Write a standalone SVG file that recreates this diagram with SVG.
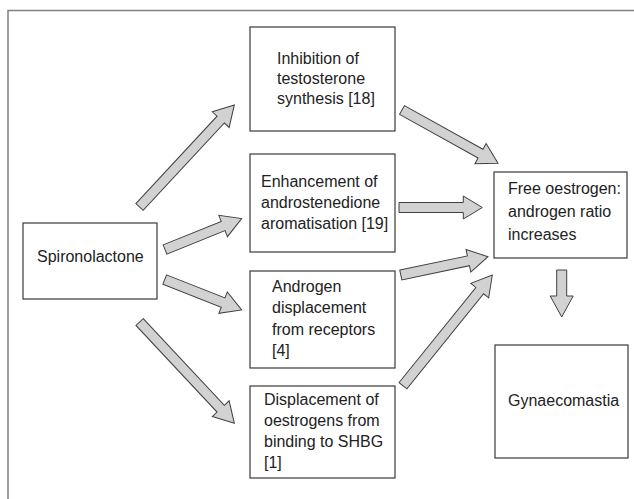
<svg xmlns="http://www.w3.org/2000/svg" width="634" height="499" viewBox="0 0 634 499">
<style>
.frame{fill:none;stroke:#808080;stroke-width:1.5}
.box{fill:#fff;stroke:#3a3a3a;stroke-width:1.2}
.arr{fill:#d2d2d2;stroke:#404040;stroke-width:1;stroke-linejoin:miter}
text{font-family:"Liberation Sans",Arial,sans-serif;font-size:16px;fill:#222}
</style>
<rect width="634" height="499" fill="#fff"/>
<rect class="frame" x="8" y="10.5" width="700" height="600"/>
<g id="connectors">
<path class="arr" transform="translate(139.5,207) rotate(-47.1)" d="M0,-5 H119.3 V-11.5 L139.3,0 L119.3,11.5 V5 H0 Z"/>
<path class="arr" transform="translate(165,249.5) rotate(-22)" d="M0,-5 H62.7 V-11.5 L82.7,0 L62.7,11.5 V5 H0 Z"/>
<path class="arr" transform="translate(164.7,279.5) rotate(21.6)" d="M0,-5 H62.8 V-11.5 L82.8,0 L62.8,11.5 V5 H0 Z"/>
<path class="arr" transform="translate(139.6,322) rotate(46.9)" d="M0,-5 H118.7 V-11.5 L138.7,0 L118.7,11.5 V5 H0 Z"/>
<path class="arr" transform="translate(402,110) rotate(29.04)" d="M0,-5 H89.8 V-11.5 L109.8,0 L89.8,11.5 V5 H0 Z"/>
<path class="arr" transform="translate(399,207.5)" d="M0,-5 H64.3 V-11.5 L83.3,0 L64.3,11.5 V5 H0 Z"/>
<path class="arr" transform="translate(400.8,275) rotate(-11.85)" d="M0,-5 H69.1 V-11.5 L89.1,0 L69.1,11.5 V5 H0 Z"/>
<path class="arr" transform="translate(403,385.7) rotate(-51.1)" d="M0,-5 H122.2 V-11.5 L142.2,0 L122.2,11.5 V5 H0 Z"/>
<path class="arr" transform="translate(561.7,270) rotate(90)" d="M0,-5 H26 V-11.5 L47,0 L26,11.5 V5 H0 Z"/>
</g>
<g id="spironolactone">
<rect class="box" x="23" y="223" width="134" height="76"/>
<text x="37" y="262">Spironolactone</text>
</g>
<g id="inhibition">
<rect class="box" x="250" y="27" width="145" height="104"/>
<text x="277" y="64">Inhibition of</text>
<text x="277" y="84">testosterone</text>
<text x="277" y="104">synthesis [18]</text>
</g>
<g id="enhancement">
<rect class="box" x="250" y="154" width="145" height="98"/>
<text x="261" y="187">Enhancement of</text>
<text x="261" y="208">androstenedione</text>
<text x="261" y="229">aromatisation [19]</text>
</g>
<g id="androgen">
<rect class="box" x="250" y="271" width="145" height="97"/>
<text x="272" y="292">Androgen</text>
<text x="272" y="313">displacement</text>
<text x="272" y="335">from receptors</text>
<text x="272" y="356">[4]</text>
</g>
<g id="displacement">
<rect class="box" x="250" y="386" width="145" height="92"/>
<text x="264" y="405">Displacement of</text>
<text x="264" y="426">oestrogens from</text>
<text x="264" y="447">binding to SHBG</text>
<text x="264" y="468">[1]</text>
</g>
<g id="free-ratio">
<rect class="box" x="494" y="172" width="133" height="86"/>
<text x="508" y="194">Free oestrogen:</text>
<text x="508" y="217">androgen ratio</text>
<text x="508" y="240">increases</text>
</g>
<g id="gynaecomastia">
<rect class="box" x="495" y="345" width="133" height="113"/>
<text x="508" y="406">Gynaecomastia</text>
</g>
</svg>
